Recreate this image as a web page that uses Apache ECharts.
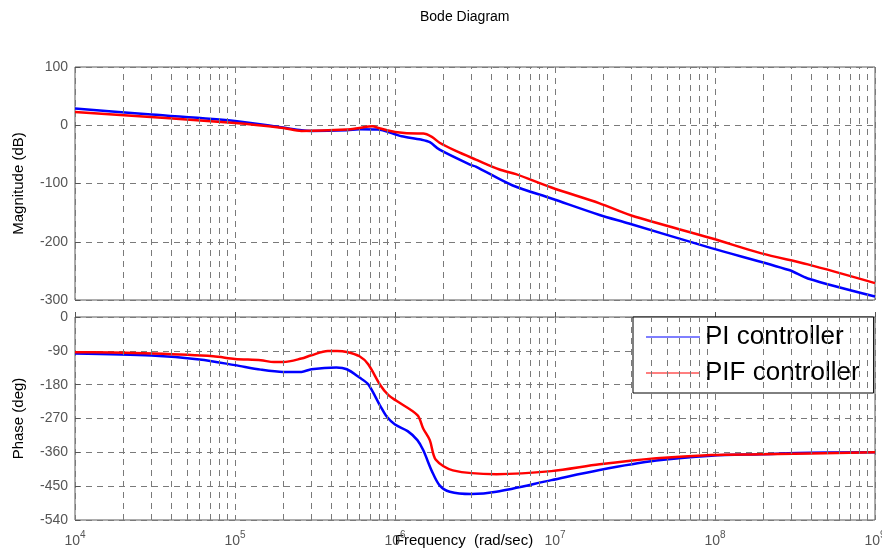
<!DOCTYPE html>
<html>
<head>
<meta charset="utf-8"/>
<title>Bode Diagram</title>
<script src="https://cdn.jsdelivr.net/npm/echarts@6/dist/echarts.min.js"></script>
<style>
    html, body { margin: 0; padding: 0; background: #fff; }
    #chart { width: 882px; height: 550px; }
</style>
</head>
<body>
<div id="chart"></div>
<script>
    // frequencies (rad/sec) and values
    var piMagW = [1e4, 3e4, 1e5, 2e5, 2.6e5, 3e5, 5e5, 6e5, 7.8e5, 1e6, 1.1e6, 1.45e6, 1.65e6, 1.9e6, 3e6, 3.2e6, 5.4e6, 9.5e6, 1.9e7, 2.9e7, 9.5e7, 2.9e8, 3.8e8, 1e9];
    var piMag = [28.6, 18.3, 7.4, -4, -8.6, -9.7, -8.6, -7, -7.4, -15.4, -19, -24.6, -29, -42, -68.6, -71, -103, -125.7, -154, -168.6, -211, -248.6, -263, -294];

    var pifMagW = [1e4, 1e5, 2e5, 2.6e5, 5e5, 6e5, 7.2e5, 8.1e5, 1e6, 1.38e6, 1.5e6, 1.7e6, 1.9e6, 2.4e6, 3.2e6, 4.5e6, 5.7e6, 9.5e6, 1.9e7, 3e7, 9.5e7, 1.95e8, 3.8e8, 1e9];
    var pifMag = [22.9, 4, -4.6, -9.7, -7.4, -4.6, -1.7, -5.7, -11.4, -14.3, -14.3, -20, -30, -44, -58.9, -76, -84, -106.9, -134, -155, -194, -220, -238.9, -271];

    var piPhaseW = [1e4, 3e4, 6e4, 1e5, 1.45e5, 2e5, 2.6e5, 3e5, 4.3e5, 5e5, 6e5, 6.8e5, 8.1e5, 8.9e5, 1e6, 1.2e6, 1.38e6, 1.5e6, 1.7e6, 1.9e6, 2.2e6, 3e6, 4.3e6, 9.5e6, 1.9e7, 4.3e7, 9.5e7, 1.95e8, 4e8, 1e9];
    var piPhase = [-97.4, -102.7, -113, -128, -140, -146, -146, -139, -134.5, -139, -161, -179, -237, -265.6, -286, -303.6, -327.5, -354, -410, -448, -465, -471, -465, -434, -407, -382, -369, -365, -361, -360];

    var pifPhaseW = [1e4, 1.3e4, 3.1e4, 7.3e4, 1e5, 1.45e5, 1.75e5, 2e5, 2.6e5, 3e5, 3.8e5, 4.35e5, 5e5, 6e5, 6.8e5, 8.1e5, 9.1e5, 1.02e6, 1.38e6, 1.5e6, 1.65e6, 1.8e6, 2.3e6, 4.3e6, 9.5e6, 1.9e7, 4.3e7, 9.5e7, 1.95e8, 1e9];
    var pifPhase = [-93.8, -93.8, -97.4, -104.5, -111.5, -115, -120, -120, -110.6, -101.8, -90.3, -90.3, -93, -104.5, -125.7, -181.5, -208, -223, -261, -296.5, -327.5, -380, -408, -418, -410, -392, -376, -367, -365, -360];

    var magTicks = [-300, -200, -100, 0, 100];
    var phaseTicks = [-540, -450, -360, -270, -180, -90, 0];
    var decades = [1e4, 1e5, 1e6, 1e7, 1e8];
    var minorSteps = [2, 3, 4, 5, 6, 7, 8, 9];

    function pairs(w, v) {
        var out = [];
        for (var i = 0; i < w.length; i++) out.push([w[i], v[i]]);
        return out;
    }

    var minorGrid = [];
    decades.forEach(function (d) {
        minorSteps.forEach(function (k) { minorGrid.push({xAxis: k * d}); });
    });

    var font = 'Liberation Sans, Arial, Helvetica, sans-serif';
    var gridGray = '#7a7a7a';
    var dash = [6, 5];

    function xAxisCfg(idx, showLabel) {
        return {
            type: 'log', logBase: 10, gridIndex: idx, min: 1e4, max: 1e9,
            axisLine: {show: false},
            axisTick: {show: showLabel, inside: true, length: 5, lineStyle: {color: '#555'}},
            splitLine: {show: true, lineStyle: {color: gridGray, type: dash, width: 1}},
            axisLabel: {
                show: showLabel, margin: 10, color: '#555', fontFamily: font,
                formatter: function (v) {
                    return '{b|10}{s|' + Math.round(Math.log10(v)) + '}';
                },
                rich: {
                    b: {fontSize: 14, color: '#555', fontFamily: font},
                    s: {fontSize: 10, color: '#555', fontFamily: font, padding: [0, 0, 12, 0]}
                }
            },
            name: showLabel ? 'Frequency  (rad/sec)' : '',
            nameLocation: 'middle', nameGap: 13, nameMoveOverlap: false,
            nameTextStyle: {color: '#000', fontSize: 15, fontFamily: font, padding: [0, 22, 0, 0]}
        };
    }

    function yAxisCfg(idx, ticks, step, name) {
        return {
            type: 'value', gridIndex: idx,
            min: ticks[0], max: ticks[ticks.length - 1], interval: step,
            axisLine: {show: false},
            axisTick: {show: true, inside: true, length: 5, lineStyle: {color: '#555'}},
            splitLine: {show: true, lineStyle: {color: gridGray, type: dash, width: 1}},
            axisLabel: {color: '#555', fontSize: 14, fontFamily: font, margin: 7},
            name: name, nameLocation: 'middle', nameGap: 49, nameMoveOverlap: false,
            nameTextStyle: {color: '#000', fontSize: 15, fontFamily: font}
        };
    }

    function minorSeries(idx) {
        return {
            type: 'line', xAxisIndex: idx, yAxisIndex: idx, data: [], silent: true, z: 1,
            markLine: {
                silent: true, symbol: ['none', 'none'], label: {show: false},
                lineStyle: {color: gridGray, type: dash, width: 1},
                emphasis: {disabled: true},
                animation: false,
                data: minorGrid
            }
        };
    }

    function curve(name, color, idx, w, v) {
        return {
            name: name, type: 'line', xAxisIndex: idx, yAxisIndex: idx,
            data: pairs(w, v), symbol: 'none', showSymbol: false, smooth: 0.3, z: 3,
            lineStyle: {color: color, width: 2.5}, itemStyle: {color: color}
        };
    }

    var myChart = echarts.init(document.getElementById('chart'));
    var option = {
        animation: false,
        backgroundColor: '#fff',
        title: {
            text: 'Bode Diagram', left: 420, top: 10, padding: 0,
            textStyle: {color: '#000', fontSize: 14, fontWeight: 'normal', fontFamily: font}
        },
        legend: {
            data: ['PI controller', 'PIF controller'],
            orient: 'vertical', left: 633, top: 317,
            icon: 'rect', itemWidth: 54, itemHeight: 1.2,
            padding: [7, 14, 7, 13], itemGap: 10,
            backgroundColor: '#fff', borderColor: '#000', borderWidth: 1, borderRadius: 0,
            textStyle: {color: '#000', fontSize: 26, fontFamily: font}
        },
        grid: [
            {left: 75, right: 7, top: 67, height: 233, show: true, outerBoundsMode: 'none', containLabel: false,
                borderColor: '#5a5a5a', borderWidth: 1, backgroundColor: 'transparent'},
            {left: 75, right: 7, top: 317, height: 203, show: true, outerBoundsMode: 'none', containLabel: false,
                borderColor: '#5a5a5a', borderWidth: 1, backgroundColor: 'transparent'}
        ],
        xAxis: [xAxisCfg(0, false), xAxisCfg(1, true)],
        yAxis: [
            yAxisCfg(0, magTicks, 100, 'Magnitude (dB)'),
            yAxisCfg(1, phaseTicks, 90, 'Phase (deg)')
        ],
        series: [
            minorSeries(0),
            minorSeries(1),
            curve('PI controller', '#0000ff', 0, piMagW, piMag),
            curve('PIF controller', '#ff0000', 0, pifMagW, pifMag),
            curve('PI controller', '#0000ff', 1, piPhaseW, piPhase),
            curve('PIF controller', '#ff0000', 1, pifPhaseW, pifPhase)
        ]
    };
    myChart.setOption(option);
</script>
</body>
</html>
